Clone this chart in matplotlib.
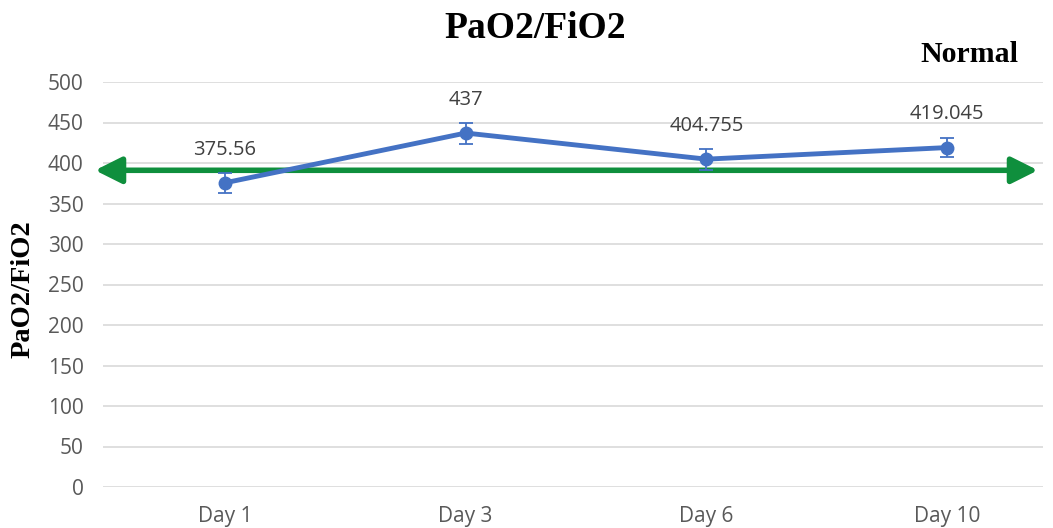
import matplotlib
matplotlib.use("Agg")
import matplotlib.pyplot as plt

categories = ["Day 1", "Day 3", "Day 6", "Day 10"]
values = [375.56, 437, 404.755, 419.045]
errors = [12, 13, 13, 12]
labels = ["375.56", "437", "404.755", "419.045"]
normal_value = 391
yticks = [0, 50, 100, 150, 200, 250, 300, 350, 400, 450, 500]

W, H = 1053, 528
fig = plt.figure(figsize=(W/100, H/100), dpi=100)
left, right, top, bottom = 103, 1043, 82, 487
ax = fig.add_axes([left/W, 1-bottom/H, (right-left)/W, (bottom-top)/H])

x = list(range(len(categories)))
ax.errorbar(x, values, yerr=errors, color="#4472C4", lw=3.5, marker="o", ms=9,
            capsize=5, elinewidth=1.3, ecolor="#4472C4", capthick=1.3, zorder=4)
for xi, v, lab in zip(x, values, labels):
    ax.text(xi, v + 41, lab, ha="center", va="center", fontsize=14.5,
            color="#404040", family="Open Sans")

ax.set_ylim(0, 500)
ax.set_xlim(-0.507, 3.399)
ax.set_yticks(yticks)
ax.set_xticks(x)
ax.set_xticklabels(categories)
ax.grid(axis="y", color="#d9d9d9", lw=1.2)
ax.set_axisbelow(True)
for s in ax.spines.values():
    s.set_visible(False)
ax.tick_params(length=0, labelsize=15, labelcolor="#595959")
for t in ax.get_xticklabels() + ax.get_yticklabels():
    t.set_family("Open Sans")
ax.tick_params(axis="x", pad=14)
ax.tick_params(axis="y", pad=14)

# Normal double arrow
ax.annotate("", xy=(3.378, normal_value), xytext=(-0.540, normal_value),
            xycoords="data", textcoords="data",
            arrowprops=dict(arrowstyle="<|-|>,head_length=1.6,head_width=0.8",
                            color="#0F8F3D", lw=4, shrinkA=0, shrinkB=0),
            annotation_clip=False, zorder=3)

fig.text(535/W, 1-29/H, "PaO2/FiO2", ha="center", va="center", fontsize=27,
         fontweight="bold", family="Liberation Serif")
fig.text(969/W, 1-54/H, "Normal", ha="center", va="center", fontsize=21.5,
         fontweight="bold", family="Liberation Serif")
fig.text(23/W, 1-289/H, "PaO2/FiO2", ha="center", va="center", fontsize=20.5,
         fontweight="bold", family="Liberation Serif", rotation=90)

fig.savefig("out.png", dpi=100, facecolor="white")
